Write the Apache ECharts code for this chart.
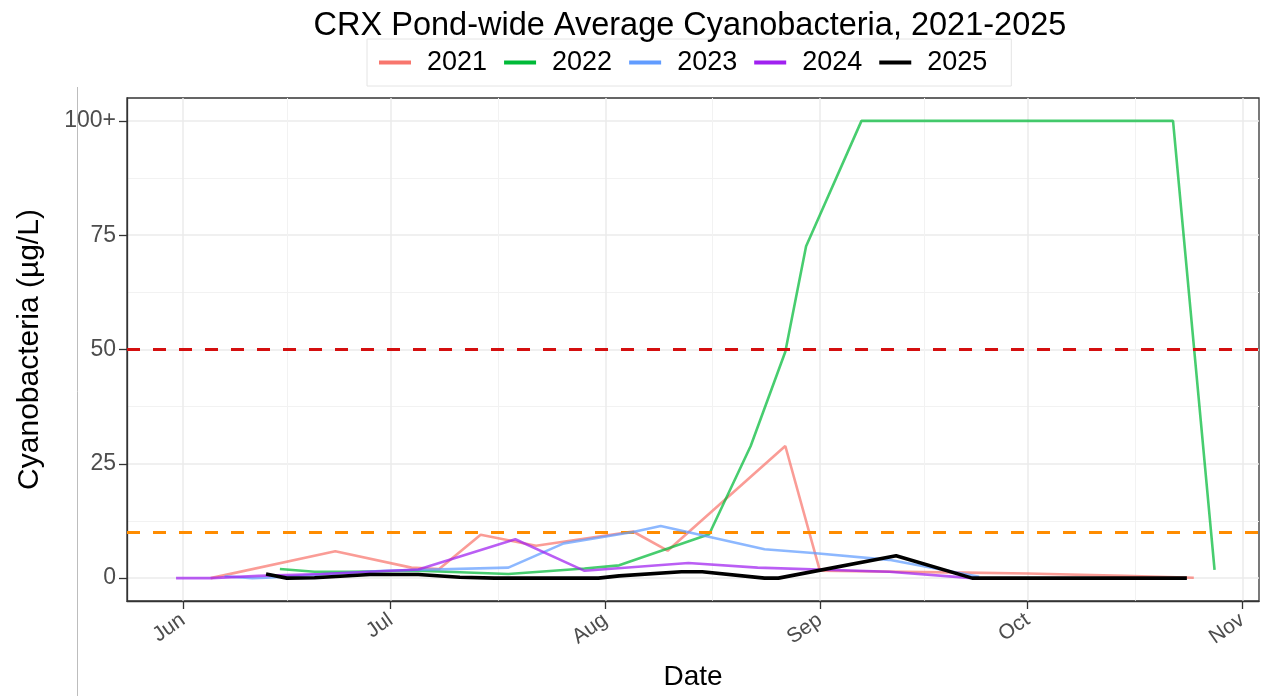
<!DOCTYPE html>
<html><head><meta charset="utf-8">
<script src="https://cdn.jsdelivr.net/npm/echarts@6/dist/echarts.min.js"></script>
<style>html,body{margin:0;padding:0;background:#fff}#chart{width:1265px;height:696px}</style>
</head><body><div id="chart"></div>
<script>
// ---- data ----
const YEAR_BASE = 2021; // all seasons plotted on a common calendar
const years = ['2021', '2022', '2023', '2024', '2025'];

const dates2021 = ['06-05','06-23','07-04','07-08','07-14','07-22','08-05','08-10','08-27','09-01','09-22','10-01','10-15','10-25'];
const values2021 = [0, 5.9, 2.3, 2.0, 9.5, 7.1, 10.2, 6.0, 28.9, 1.6, 1.2, 1.0, 0.5, 0.1];

const dates2022 = ['06-15','06-20','06-25','07-05','07-18','07-29','08-03','08-16','08-22','08-27','08-30','09-07','10-22','10-28'];
const values2022 = [2.0, 1.4, 1.4, 1.6, 0.9, 2.1, 2.8, 9.6, 28.9, 49.5, 72.6, 100, 100, 1.8];

const dates2023 = ['06-07','06-11','06-13','06-30','07-18','07-26','08-05','08-09','08-24','08-31','09-11','09-24'];
const values2023 = [0.4, 0, 0.1, 1.6, 2.3, 7.6, 10.1, 11.4, 6.3, 5.5, 4.0, 0.3];

const dates2024 = ['05-31','06-05','06-12','06-21','07-05','07-19','07-29','08-13','08-23','09-11','09-23'];
const values2024 = [0, 0, 0.5, 0.9, 1.9, 8.5, 1.6, 3.3, 2.3, 1.4, 0];

const dates2025 = ['06-13','06-16','06-20','06-28','07-05','07-11','07-16','07-31','08-03','08-12','08-15','08-24','08-26','09-12','09-23','10-24'];
const values2025 = [0.9, 0, 0.1, 0.8, 0.8, 0.2, 0, 0, 0.5, 1.4, 1.4, 0, 0, 4.9, 0, 0];

const xAxisLimits = ['05-23 22', '11-03 10'];   // axis range shown (month-day hour)
const monthTicks = ['06-01','07-01','08-01','09-01','10-01','11-01'];
const monthNames = ['Jan','Feb','Mar','Apr','May','Jun','Jul','Aug','Sep','Oct','Nov','Dec'];
const yAxisLimits = [-5, 105];
const yTicks = [0, 25, 50, 75, 100];
const yTickLabels = ['0', '25', '50', '75', '100+'];
const thresholdValues = [50, 10];

// ---- helpers ----
function ts(md) {
  const parts = md.split(' ');
  const p = parts[0].split('-');
  const h = parts[1] ? +parts[1] : 0;
  return new Date(YEAR_BASE, +p[0] - 1, +p[1], h).getTime();
}
const allDates = [dates2021, dates2022, dates2023, dates2024, dates2025];
const allValues = [values2021, values2022, values2023, values2024, values2025];
const colors = ['#F8766D', '#00BA38', '#619CFF', '#A020F0', '#000000'];
const lineColors = ['rgba(248,118,109,0.72)', 'rgba(0,186,56,0.72)', 'rgba(97,156,255,0.72)', 'rgba(160,32,240,0.72)', '#000000'];

const xMin = ts(xAxisLimits[0]), xMax = ts(xAxisLimits[1]);
const majorX = monthTicks.map(ts);
const minorX = [];
for (let i = 0; i < majorX.length - 1; i++) minorX.push((majorX[i] + majorX[i + 1]) / 2);
const minorY = [];
for (let i = 0; i < yTicks.length - 1; i++) minorY.push((yTicks[i] + yTicks[i + 1]) / 2);

const FONT = 'Liberation Sans, Arial, Helvetica, sans-serif';
const series = years.map((y, i) => ({
  name: y,
  type: 'line',
  xAxisIndex: 0, yAxisIndex: 0,
  data: allDates[i].map((d, j) => [ts(d), allValues[i][j]]),
  showSymbol: false,
  symbol: 'none',
  color: colors[i],
  itemStyle: { color: colors[i] },
  lineStyle: { color: lineColors[i], width: i === 4 ? 3.6 : 2.6 },
  z: 3 + i,
  animation: false
}));
series.push({
  name: 'thresholds', type: 'line', data: [], xAxisIndex: 0, yAxisIndex: 0, z: 10, animation: false,
  markLine: {
    silent: true, symbol: 'none', animation: false,
    label: { show: false },
    data: thresholdValues.map((v, k) => ({ yAxis: v, lineStyle: { color: k === 0 ? '#D40F0F' : '#FF8C00', type: [13, 13], width: 3 } }))
  }
});

const chart = echarts.init(document.getElementById('chart'), null, { renderer: 'canvas' });
chart.setOption({
  animation: false,
  backgroundColor: '#ffffff',
  textStyle: { fontFamily: FONT },
  title: {
    text: 'CRX Pond-wide Average Cyanobacteria, 2021-2025',
    left: 685, top: 5, textAlign: 'center',
    textStyle: { fontFamily: FONT, fontSize: 32.5, fontWeight: 'normal', color: '#000' }
  },
  legend: {
    data: years,
    left: 367, top: 39,
    padding: [10, 24, 10, 12],
    borderColor: '#e4e4e4', borderWidth: 1,
    icon: 'rect', itemWidth: 32, itemHeight: 4, itemGap: 17,
    textStyle: { fontFamily: FONT, fontSize: 27, color: '#000', padding: [0, 0, 0, 11] }
  },
  grid: { left: 127, right: 6, top: 98, bottom: 92, show: true, borderColor: '#333333', borderWidth: 1.3, backgroundColor: '#fff' },
  xAxis: [{
    type: 'value', min: xMin, max: xMax, scale: true,
    name: 'Date', nameLocation: 'middle', nameGap: 62,
    nameTextStyle: { fontFamily: FONT, fontSize: 28, color: '#000' },
    axisLine: { show: true, onZero: false, lineStyle: { color: '#333', width: 1.3 } },
    axisTick: { show: true, length: 8, lineStyle: { color: '#333', width: 1.3 }, customValues: majorX },
    axisLabel: { customValues: majorX, rotate: 35, margin: 17, fontSize: 21, color: '#4d4d4d', fontFamily: FONT,
      formatter: v => monthNames[new Date(v).getMonth()] },
    splitLine: { show: true, lineStyle: { color: '#ebebeb', width: 1.5 } }
  }, {
    type: 'value', min: xMin, max: xMax, scale: true, position: 'bottom', gridIndex: 0,
    axisLine: { show: false, onZero: false }, axisLabel: { show: false },
    axisTick: { show: false, customValues: minorX },
    splitLine: { show: true, lineStyle: { color: '#f2f2f2', width: 1 } }
  }],
  yAxis: [{
    type: 'value', min: yAxisLimits[0], max: yAxisLimits[1],
    name: 'Cyanobacteria (µg/L)', nameLocation: 'middle', nameGap: 82,
    nameTextStyle: { fontFamily: FONT, fontSize: 30, color: '#000' },
    axisLine: { show: true, onZero: false, lineStyle: { color: '#333', width: 1.3 } },
    axisTick: { show: true, length: 8, lineStyle: { color: '#333', width: 1.3 }, customValues: yTicks },
    axisLabel: { customValues: yTicks, margin: 11, fontSize: 23, color: '#4d4d4d', fontFamily: FONT,
      formatter: v => yTickLabels[yTicks.indexOf(v)] },
    splitLine: { show: true, lineStyle: { color: '#ebebeb', width: 1.5 } }
  }, {
    type: 'value', min: yAxisLimits[0], max: yAxisLimits[1], position: 'left', gridIndex: 0,
    axisLine: { show: false, onZero: false }, axisLabel: { show: false },
    axisTick: { show: false, customValues: minorY },
    splitLine: { show: true, lineStyle: { color: '#f2f2f2', width: 1 } }
  }],
  graphic: [
    { type: 'line', shape: { x1: 77.5, y1: 87, x2: 77.5, y2: 696 }, style: { stroke: '#bdbdbd', lineWidth: 1 }, silent: true }
  ],
  series: series
});
</script></body></html>
